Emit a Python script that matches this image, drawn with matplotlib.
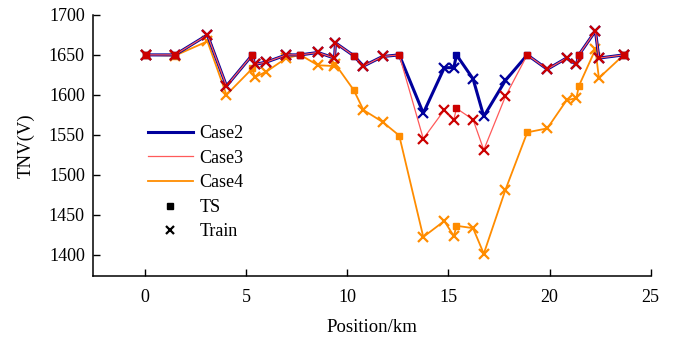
import matplotlib
matplotlib.use("Agg")
import matplotlib.pyplot as plt
from matplotlib.lines import Line2D
import numpy as np

# ---- data ----
position = [0.03, 1.48, 3.09, 4.03, 5.31, 5.42, 6.00, 6.99, 7.68, 8.55,
            9.37, 9.42, 10.32, 10.80, 11.75, 12.57, 13.76, 14.80, 15.27, 15.40,
            16.22, 16.75, 17.82, 18.90, 19.89, 20.84, 21.33, 21.45, 22.27, 22.44,
            23.67]
point_type = ['Both', 'Both', 'Train', 'Train', 'TS', 'Train', 'Train', 'Train', 'TS', 'Train',
              'Train', 'Train', 'TS', 'Train', 'Train', 'TS', 'Train', 'Train', 'Train', 'TS',
              'Train', 'Train', 'Train', 'TS', 'Train', 'Train', 'Train', 'TS', 'Train', 'Train',
              'Both']
case2 = [1650, 1650, 1675, 1611, 1650, 1638, 1641, 1650, 1650, 1653,
         1646, 1665, 1649, 1636, 1648, 1650, 1577, 1634, 1634, 1650,
         1620, 1573, 1618, 1650, 1632, 1646, 1638, 1650, 1680, 1646,
         1650]
case3 = [1650, 1650, 1675, 1611, 1650, 1638, 1641, 1650, 1650, 1653,
         1646, 1665, 1649, 1636, 1648, 1650, 1545, 1581, 1569, 1583,
         1569, 1531, 1598, 1650, 1632, 1646, 1638, 1650, 1680, 1646,
         1650]
case4 = [1650, 1649, 1667, 1600, 1633, 1622, 1629, 1646, 1650, 1637,
         1636, 1638, 1606, 1581, 1566, 1549, 1422, 1442, 1423, 1436,
         1433, 1401, 1481, 1553, 1558, 1593, 1596, 1611, 1657, 1621,
         1650]
series_names = ['Case2', 'Case3', 'Case4']
x_ticks = [0, 5, 10, 15, 20, 25]
y_ticks = [1400, 1450, 1500, 1550, 1600, 1650, 1700]

# ---- style ----
plt.rcParams['font.family'] = ['Liberation Serif', 'DejaVu Serif']
line_colors = {'Case2': '#00009c', 'Case3': '#ff5a5a', 'Case4': '#ff8c00'}
marker_colors = {'Case2': '#00009c', 'Case3': '#cc0000', 'Case4': '#ff8c00'}
line_widths = {'Case2': 2.2, 'Case3': 0.9, 'Case4': 1.3}
zorders = {'Case4': 2, 'Case2': 3, 'Case3': 4}

fig = plt.figure(figsize=(6.9, 3.4), dpi=100)
ax = fig.add_axes([0.135, 0.188, 0.808, 0.768])

pos = np.array(position)
ptype = np.array(point_type)
data = {'Case2': np.array(case2), 'Case3': np.array(case3), 'Case4': np.array(case4)}

for name in ['Case4', 'Case2', 'Case3']:
    vals = data[name]
    z = zorders[name]
    ax.plot(pos, vals, color=line_colors[name], lw=line_widths[name], zorder=z)
    ts = (ptype == 'TS') | (ptype == 'Both')
    tr = (ptype == 'Train') | (ptype == 'Both')
    ax.plot(pos[ts], vals[ts], ls='none', marker='s', ms=5,
            color=marker_colors[name], zorder=z + 0.5)
    ax.plot(pos[tr], vals[tr], ls='none', marker='x', ms=7, mew=1.6,
            color=marker_colors[name], zorder=z + 0.5)

ax.set_xlim(-2.56, 25)
ax.set_ylim(1373, 1700)
ax.set_xticks(x_ticks)
ax.set_yticks(y_ticks)
ax.tick_params(direction='in', length=5, width=1, labelsize=13, pad=6)
ax.tick_params(axis='x', pad=9)
for s in ['top', 'right']:
    ax.spines[s].set_visible(False)
for s in ['left', 'bottom']:
    ax.spines[s].set_linewidth(1.1)

ax.set_xlabel('Position/km', fontsize=13.5, labelpad=10)
ax.set_ylabel('TNV(V)', fontsize=13.5, labelpad=10)

handles = [Line2D([], [], color=line_colors[n], lw=line_widths[n]) for n in series_names]
handles += [Line2D([], [], ls='none', marker='s', ms=5, color='black'),
            Line2D([], [], ls='none', marker='x', ms=6, mew=1.6, color='black')]
labels = series_names + ['TS', 'Train']
ax.legend(handles, labels, loc='upper left', bbox_to_anchor=(0.098, 0.578),
          frameon=False, fontsize=13, handlelength=2.5, handletextpad=0.35,
          labelspacing=0.42, borderpad=0, borderaxespad=0)

fig.savefig('out.png', dpi=100)
